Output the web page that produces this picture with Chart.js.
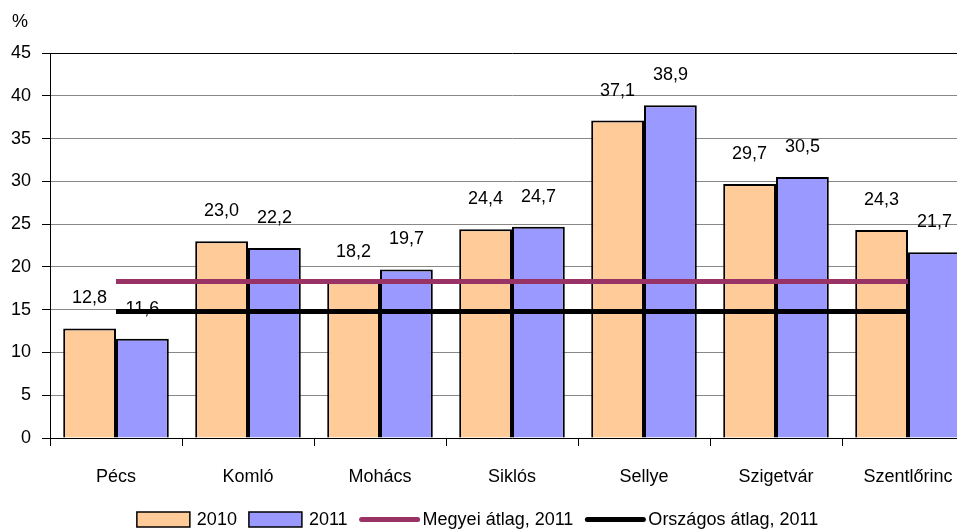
<!DOCTYPE html>
<html><head><meta charset="utf-8">
<script src="https://cdn.jsdelivr.net/npm/chart.js@4"></script>
<style>html,body{margin:0;padding:0;overflow:hidden;background:#fff;width:957px;height:529px}canvas{display:block}</style>
</head><body>
<canvas id="c" width="975" height="529"></canvas>
<script>
const categories = ['Pécs', 'Komló', 'Mohács', 'Siklós', 'Sellye', 'Szigetvár', 'Szentlőrinc'];
const values2010 = [12.8, 23.0, 18.2, 24.4, 37.1, 29.7, 24.3];
const values2011 = [11.6, 22.2, 19.7, 24.7, 38.9, 30.5, 21.7];
const megyeiAtlag2011 = [18.3, 18.3, 18.3, 18.3, 18.3, 18.3, 18.3];
const orszagosAtlag2011 = [14.8, 14.8, 14.8, 14.8, 14.8, 14.8, 14.8];
const seriesNames = ['2010', '2011', 'Megyei átlag, 2011', 'Országos átlag, 2011'];
const yMin = 0, yMax = 45, yStep = 5;
const yUnit = '%';

const FONT = '"Liberation Sans", Arial, sans-serif';
const FS = 18;
const fmt = v => v.toFixed(1).replace('.', ',');

const labelPlugin = {
  id: 'labels',
  afterDatasetDraw(chart, args) {
    const ds = chart.data.datasets[args.index];
    if (ds.type !== 'bar') return;
    const ctx = chart.ctx;
    ctx.save();
    ctx.font = FS + 'px ' + FONT;
    ctx.fillStyle = '#000';
    ctx.textAlign = 'center';
    ctx.textBaseline = 'middle';
    args.meta.data.forEach((el, i) => {
      ctx.fillText(fmt(ds.data[i]), el.x, el.y - 30);
    });
    ctx.restore();
  },
  afterDraw(chart) {
    const ctx = chart.ctx;
    ctx.save();
    ctx.font = FS + 'px ' + FONT;
    ctx.fillStyle = '#000';
    ctx.textAlign = 'center';
    ctx.textBaseline = 'middle';
    ctx.fillText(yUnit, chart.chartArea.left - 30, chart.chartArea.top - 31);

    // legend
    const items = chart.data.datasets.map(ds => ({
      text: ds.label, isBar: ds.type === 'bar', fill: ds.backgroundColor, stroke: ds.borderColor
    }));
    ctx.textAlign = 'left';
    const widths = items.map(it => (it.isBar ? 53 + 7 : 60 + 3) + ctx.measureText(it.text).width);
    const total = widths.reduce((a, b) => a + b, 0) + 12 * (items.length - 1);
    let x = chart.width / 2 - 10 - total / 2;
    const yc = 519.5;
    items.forEach((it, i) => {
      if (it.isBar) {
        ctx.fillStyle = it.fill;
        ctx.fillRect(x, yc - 7.5, 53, 15);
        ctx.strokeStyle = '#000';
        ctx.lineWidth = 1.5;
        ctx.strokeRect(x, yc - 7.5, 53, 15);
        x += 60;
      } else {
        ctx.strokeStyle = it.stroke;
        ctx.lineWidth = 5;
        ctx.lineCap = 'round';
        ctx.beginPath();
        ctx.moveTo(x + 2, yc);
        ctx.lineTo(x + 58, yc);
        ctx.stroke();
        x += 63;
      }
      ctx.fillStyle = '#000';
      ctx.fillText(it.text, x, yc + 1);
      x += ctx.measureText(it.text).width + 12;
    });
    ctx.restore();
  }
};

new Chart(document.getElementById('c'), {
  data: {
    labels: categories,
    datasets: [
      { type: 'bar', label: seriesNames[0], data: values2010, backgroundColor: '#FFCC99', borderColor: '#000', borderWidth: 2, order: 1, categoryPercentage: 0.8, barPercentage: 1.0 },
      { type: 'bar', label: seriesNames[1], data: values2011, backgroundColor: '#9999FF', borderColor: '#000', borderWidth: 2, order: 1, categoryPercentage: 0.8, barPercentage: 1.0 },
      { type: 'line', label: seriesNames[2], data: megyeiAtlag2011, borderColor: '#993366', backgroundColor: '#993366', borderWidth: 5, pointRadius: 0, order: 0 },
      { type: 'line', label: seriesNames[3], data: orszagosAtlag2011, borderColor: '#000', backgroundColor: '#000', borderWidth: 5, pointRadius: 0, order: 0 }
    ]
  },
  options: {
    responsive: false,
    animation: false,
    devicePixelRatio: 1,
    layout: { padding: { top: 53, right: 1, left: 0, bottom: 38 } },
    plugins: {
      tooltip: { enabled: false },
      legend: { display: false }
    },
    scales: {
      x: {
        offset: true,
        grid: { offset: true, drawOnChartArea: false, drawTicks: true, tickLength: 8, color: '#000' },
        border: { display: true, color: '#000', width: 1 },
        ticks: { font: { family: FONT, size: FS }, color: '#000', padding: 20, maxRotation: 0 },
        afterFit(s) { s.height = 53; }
      },
      y: {
        min: yMin, max: yMax,
        ticks: { stepSize: yStep, font: { family: FONT, size: FS }, color: '#000', padding: 11 },
        grid: { color: c => c.tick && c.tick.value === yMax ? '#000' : '#888', tickColor: '#000', tickLength: 8, lineWidth: 1 },
        border: { display: true, color: '#000', width: 1 },
        afterFit(s) { s.width = 50; }
      }
    }
  },
  plugins: [labelPlugin]
});
</script>
</body></html>
